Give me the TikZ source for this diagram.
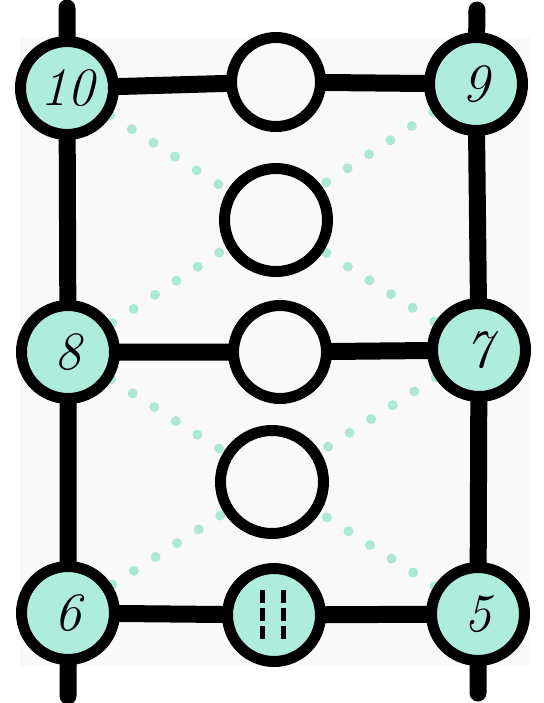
\documentclass[tikz,border=0pt]{standalone}
\usepackage{fontspec}
\usepackage{tikz}
\usetikzlibrary{backgrounds,calc}
\definecolor{mint}{HTML}{AEEDDC}
\definecolor{mintdot}{HTML}{ADE8D6}
\definecolor{paper}{HTML}{F9F9F9}
\tikzset{
  numbox/.style={circle, draw, line width=5.5pt, fill=mint, minimum size=46.5pt, inner sep=0pt,
                 font=\fontsize{27}{29}\selectfont\itshape},
  emptybox/.style={circle, draw, line width=5.5pt, fill=paper, minimum size=46.5pt, inner sep=0pt},
  bar/.style={line width=8.5pt, line cap=round},
  dotlink/.style={mintdot, line width=5pt, line cap=round, dash pattern=on 0pt off 12.8pt},
  tally/.style={line width=2.5pt, dash pattern=on 6.5pt off 2.5pt},
}

\begin{document}
\begin{tikzpicture}[x=0.5pt, y=-0.5pt]
  \useasboundingbox (0,0) rectangle (544,703);
  % corner and side nodes
  \node[numbox] (n10) at (67,88) {10};
  \node[numbox] (n9) at (476,84) {9};
  \node[numbox] (n8) at (68,352) {8};
  \node[numbox] (n7) at (479,350) {7};
  \node[numbox] (n6) at (68,613) {6};
  \node[numbox] (n5) at (478,614) {5};
  \node[numbox] (n11) at (274,615) {};
  % empty middle column
  \node[emptybox, minimum size=44.5pt] (w1) at (276,82) {};
  \node[emptybox, minimum size=51.5pt] (w2) at (276,220) {};
  \node[emptybox] (w3) at (280,352) {};
  \node[emptybox, minimum size=51.5pt] (w4) at (272,482) {};
  \coordinate (tl) at (67,8); \coordinate (bl) at (68,696);
  \coordinate (tr) at (477,10); \coordinate (br) at (478,693);
  \draw[tally] ($(n11)+(-12,-25)$) -- ($(n11)+(-12,25)$); \draw[tally] ($(n11)+(9,-25)$) -- ($(n11)+(9,25)$);
  \begin{scope}[on background layer]
    \fill[paper] (20,37) rectangle (530,666);
    \draw[dotlink] (n10.center) -- (n7.center); \draw[dotlink] (n9.center) -- (n8.center);
    \draw[dotlink] (n8.center) -- (n5.center); \draw[dotlink] (n7.center) -- (n6.center);
    \draw[bar] (tl) -- (n10.center) -- (n8.center) -- (n6.center) -- (bl);
    \draw[bar] (tr) -- (n9.center) -- (n7.center) -- (n5.center) -- (br);
    \draw[bar] (n10.center) -- (w1.center) -- (n9.center);
    \draw[bar] (n8.center) -- (w3.center) -- (n7.center);
    \draw[bar] (n6.center) -- (n11.center) -- (n5.center);
  \end{scope}
\end{tikzpicture}
\end{document}
